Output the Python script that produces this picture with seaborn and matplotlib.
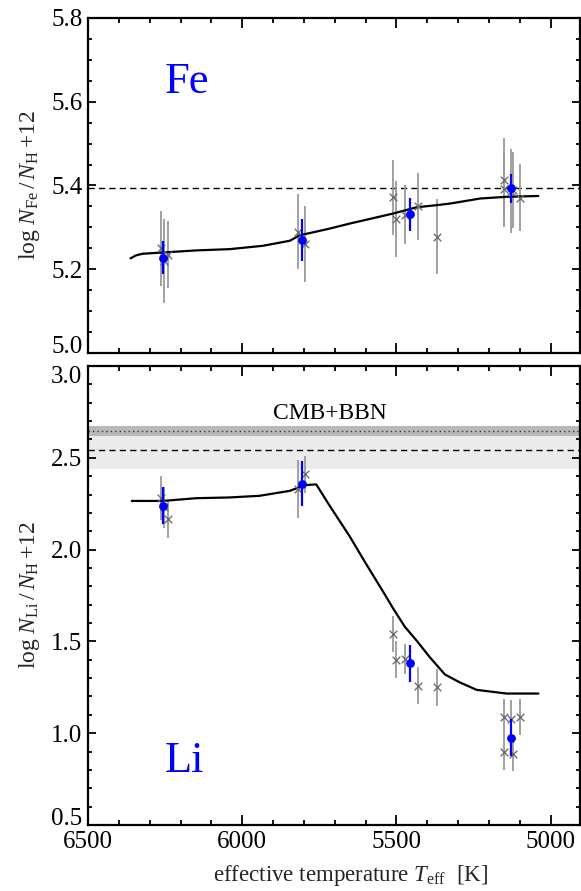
import numpy as np
import pandas as pd
import matplotlib
matplotlib.use("Agg")
import matplotlib.pyplot as plt
import seaborn as sns
from matplotlib.ticker import MultipleLocator, FixedLocator

# ---------------- data ----------------
# individual stars (grey crosses)
star_teff = [6262, 6252, 6242, 5819, 5797, 5511, 5500, 5471, 5430, 5370,
             5151, 5151, 5130, 5121, 5100]
star_fe = [5.25, 5.22, 5.235, 5.29, 5.26, 5.372, 5.32, 5.33, 5.35, 5.278,
           5.413, 5.391, 5.386, 5.389, 5.371]
star_fe_err = [0.09, 0.10, 0.08, 0.09, 0.09, 0.09, 0.09, 0.07, 0.08, 0.09,
               0.10, 0.09, 0.10, 0.09, 0.08]
star_li = [2.28, 2.23, 2.165, 2.33, 2.41, 1.54, 1.40, 1.405, 1.258, 1.249,
           1.088, 0.897, 1.08, 0.886, 1.088]
star_li_err = [0.12, 0.11, 0.10, 0.16, 0.10, 0.10, 0.10, 0.08, 0.10, 0.10,
               0.10, 0.10, 0.10, 0.09, 0.10]

# group means (blue dots)
group_teff = [6258, 5807, 5457, 5129]
group_fe = [5.228, 5.27, 5.331, 5.393]
group_fe_err = [0.04, 0.05, 0.04, 0.035]
group_li = [2.24, 2.36, 1.38, 0.975]
group_li_err = [0.10, 0.12, 0.10, 0.10]

# diffusion model tracks
model_fe_teff = [6362, 6345, 6323, 6258, 6149, 6041, 5933, 5846, 5814, 5717, 5652,
                 5511, 5435, 5370, 5325, 5228, 5143, 5040]
model_fe = [5.226, 5.233, 5.237, 5.240, 5.245, 5.248, 5.256, 5.268, 5.281, 5.297, 5.309,
            5.333, 5.348, 5.353, 5.357, 5.369, 5.373, 5.375]
model_li_teff = [6358, 6258, 6149, 6041, 5944, 5846, 5814, 5792, 5760, 5717,
                 5652, 5597, 5543, 5511, 5473, 5435, 5392, 5343, 5295, 5240,
                 5143, 5040]
model_li = [2.265, 2.265, 2.28, 2.284, 2.293, 2.32, 2.34, 2.352, 2.355, 2.24,
            2.073, 1.918, 1.77, 1.68, 1.58, 1.505, 1.414, 1.32, 1.277, 1.236,
            1.216, 1.216]

fe_reference = 5.395
li_initial, li_initial_err = 2.54, 0.10
li_cmb, li_cmb_err = 2.645, 0.027

x_ticks = [6500, 6000, 5500, 5000]
fe_ticks = [5.0, 5.2, 5.4, 5.6, 5.8]
li_ticks = [0.5, 1.0, 1.5, 2.0, 2.5, 3.0]

# ---------------- style ----------------
sns.set_style("ticks")
plt.rcParams['font.family'] = ['Liberation Serif', 'DejaVu Serif']
plt.rcParams['mathtext.fontset'] = 'custom'
plt.rcParams['mathtext.rm'] = 'Liberation Serif'
plt.rcParams['mathtext.it'] = 'Liberation Serif:italic'
plt.rcParams['mathtext.bf'] = 'Liberation Serif:bold'

W, H = 581, 891
fig = plt.figure(figsize=(W / 100, H / 100), dpi=100)
ax1 = fig.add_axes([88 / W, 1 - 353 / H, (580 - 88) / W, (353 - 18) / H])
ax2 = fig.add_axes([88 / W, 1 - 825 / H, (580 - 88) / W, (825 - 366) / H])

stars = pd.DataFrame({"teff": star_teff, "fe": star_fe, "fe_err": star_fe_err,
                      "li": star_li, "li_err": star_li_err})
groups = pd.DataFrame({"teff": group_teff, "fe": group_fe, "fe_err": group_fe_err,
                       "li": group_li, "li_err": group_li_err})

grey_bar = '#9a9a9a'
grey_mark = '#6e6e6e'
blue = '#0000ff'

# ---------- top panel: Fe ----------
ax1.axhline(fe_reference, color='black', lw=1.0, dashes=(4.5, 3.0), zorder=1)
sns.lineplot(x=model_fe_teff, y=model_fe, sort=False, color='black', lw=1.6,
             ax=ax1, zorder=3)
ax1.errorbar(stars["teff"], stars["fe"], yerr=stars["fe_err"], fmt='none',
             ecolor=grey_bar, elinewidth=1.3, capsize=0, zorder=2)
sns.scatterplot(data=stars, x="teff", y="fe", marker='x', s=30, color=grey_mark,
                linewidth=1.0, ax=ax1, zorder=4)
ax1.errorbar(groups["teff"], groups["fe"], yerr=groups["fe_err"], fmt='none',
             ecolor=blue, elinewidth=1.6, capsize=0, zorder=5)
sns.scatterplot(data=groups, x="teff", y="fe", marker='o', s=40, color=blue,
                edgecolor=blue, linewidth=0, ax=ax1, zorder=6)
ax1.text(6252, 5.621, 'Fe', color=blue, fontsize=32, ha='left', va='baseline')

# ---------- bottom panel: Li ----------
ax2.axhspan(li_initial - li_initial_err, li_initial + li_initial_err,
            color='#ebebeb', lw=0, zorder=0)
ax2.axhspan(li_cmb - li_cmb_err, li_cmb + li_cmb_err, color='#b8b8b8', lw=0, zorder=0.5)
ax2.axhline(li_initial, color='black', lw=1.0, dashes=(4.5, 3.0), zorder=1)
ax2.axhline(li_cmb, color='#333333', lw=1.0, dashes=(1, 2.2), zorder=1)
sns.lineplot(x=model_li_teff, y=model_li, sort=False, color='black', lw=1.6,
             ax=ax2, zorder=3)
ax2.errorbar(stars["teff"], stars["li"], yerr=stars["li_err"], fmt='none',
             ecolor=grey_bar, elinewidth=1.3, capsize=0, zorder=2)
sns.scatterplot(data=stars, x="teff", y="li", marker='x', s=30, color=grey_mark,
                linewidth=1.0, ax=ax2, zorder=4)
ax2.errorbar(groups["teff"], groups["li"], yerr=groups["li_err"], fmt='none',
             ecolor=blue, elinewidth=1.6, capsize=0, zorder=5)
sns.scatterplot(data=groups, x="teff", y="li", marker='o', s=40, color=blue,
                edgecolor=blue, linewidth=0, ax=ax2, zorder=6)
ax2.text(6252, 0.791, 'Li', color=blue, fontsize=32, ha='left', va='baseline')
ax2.text(5717, 2.709, 'CMB+BBN', color='black', fontsize=17, ha='center', va='baseline')

# ---------- axes formatting ----------
for ax in (ax1, ax2):
    ax.set_xlim(6500, 4905)
    ax.xaxis.set_major_locator(FixedLocator(x_ticks))
    ax.xaxis.set_minor_locator(MultipleLocator(100))
    ax.tick_params(axis='both', which='both', direction='in', top=True, right=True,
                   width=1.3, colors='black', labelsize=18, pad=4)
    ax.tick_params(axis='x', which='major', length=7)
    ax.tick_params(axis='x', which='minor', length=3.5)
    ax.tick_params(axis='y', which='major', length=6)
    ax.tick_params(axis='y', which='minor', length=3)
    for sp in ax.spines.values():
        sp.set_linewidth(1.6)
        sp.set_color('black')
    ax.set_xlabel('')
    ax.set_ylabel('')

ax1.set_ylim(5.0, 5.8)
ax1.yaxis.set_major_locator(FixedLocator(fe_ticks))
ax1.yaxis.set_minor_locator(MultipleLocator(0.05))
ax1.set_yticklabels([f'{v:.1f}' for v in fe_ticks])
ax1.tick_params(axis='x', labelbottom=False)

ax2.set_ylim(0.5, 3.0)
ax2.yaxis.set_major_locator(FixedLocator(li_ticks))
ax2.yaxis.set_minor_locator(MultipleLocator(0.1))
ax2.set_yticklabels([f'{v:.1f}' for v in li_ticks])
ax2.set_xticklabels([str(v) for v in x_ticks])

# keep the end labels of the two stacked panels apart (as in the reference)
ax1.get_yticklabels()[0].set_verticalalignment('baseline')
ax2.get_yticklabels()[-1].set_verticalalignment('top')
ax2.get_yticklabels()[0].set_verticalalignment('baseline')

ax1.set_ylabel(r'$\log\,N_{\rm Fe}\,/\,N_{\rm H}\,$+12', fontsize=17)
ax2.set_ylabel(r'$\log\,N_{\rm Li}\,/\,N_{\rm H}\,$+12', fontsize=17)
ax1.yaxis.set_label_coords(-0.094, 0.5)
ax2.yaxis.set_label_coords(-0.094, 0.5)
ax2.set_xlabel(r'effective temperature $T_{\rm eff}$  [K]', fontsize=16.5)
ax2.xaxis.set_label_coords(0.533, -0.083)

fig.savefig('out.png', dpi=100)
